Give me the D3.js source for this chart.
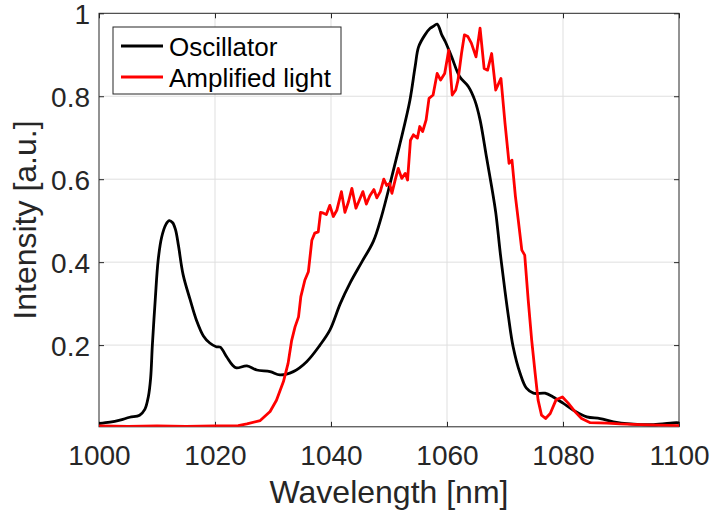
<!DOCTYPE html>
<html>
<head>
<meta charset="utf-8">
<script src="https://cdn.jsdelivr.net/npm/d3@7"></script>
<style>
  body { margin: 0; background: #fff; }
  text { font-family: "Liberation Sans", Arial, Helvetica, sans-serif; }
</style>
</head>
<body>
<div id="chart"></div>
<script>
// spectra: wavelength [nm] / intensity [a.u.]
var oscWl = [1000, 1001.9, 1003.6, 1005.3, 1007, 1007.9, 1008.5, 1008.9, 1009.2, 1009.7,
  1010.2, 1010.8, 1011.5, 1012.1, 1012.7, 1013.2, 1013.7, 1014.5, 1015.7, 1016.8,
  1018, 1019.1, 1020.2, 1020.9, 1022, 1023, 1023.7, 1025.5, 1027.2, 1029.5,
  1031.2, 1033.5, 1035.8, 1038.1, 1039.8, 1041.6, 1043.3, 1045.3, 1047.3, 1048.7,
  1050.2, 1051.9, 1053.6, 1054.5, 1055.1, 1056.2, 1057.1, 1057.6, 1058.3, 1059.1,
  1059.7, 1060.8, 1062.2, 1063.7, 1064.8, 1065.7, 1066.8, 1067.7, 1068.4, 1069.2,
  1070, 1070.6, 1071.4, 1072.6, 1073.7, 1074.9, 1076.9, 1078.3, 1080, 1081.8,
  1084.1, 1086.4, 1088.7, 1091.6, 1095.6, 1099.6, 1100];
var oscI = [0.011, 0.014, 0.019, 0.026, 0.031, 0.045, 0.075, 0.12, 0.2, 0.31,
  0.405, 0.46, 0.49, 0.5, 0.495, 0.478, 0.44, 0.37, 0.31, 0.26,
  0.222, 0.205, 0.196, 0.195, 0.172, 0.152, 0.145, 0.15, 0.14, 0.136,
  0.128, 0.136, 0.16, 0.2, 0.236, 0.3, 0.35, 0.4, 0.45, 0.51,
  0.59, 0.686, 0.79, 0.871, 0.919, 0.948, 0.964, 0.968, 0.974, 0.948,
  0.932, 0.895, 0.847, 0.823, 0.79, 0.743, 0.654, 0.582, 0.52, 0.42,
  0.33, 0.268, 0.196, 0.132, 0.096, 0.084, 0.084, 0.075, 0.06, 0.043,
  0.027, 0.023, 0.015, 0.01, 0.008, 0.013, 0.012];

var ampWl = [1000, 1005, 1010, 1015, 1020, 1024, 1025.5, 1027.8, 1029.5, 1030.6,
  1031.8, 1032.6, 1033.2, 1033.8, 1034.4, 1034.8, 1035.5, 1036.1, 1036.7, 1037.2,
  1037.8, 1038.2, 1038.7, 1039.2, 1039.8, 1040.4, 1041, 1041.8, 1042.4, 1043,
  1043.6, 1044.3, 1044.9, 1045.5, 1046.1, 1046.7, 1047.4, 1047.9, 1048.5, 1049.1,
  1049.6, 1050.1, 1050.5, 1051.1, 1051.6, 1052.2, 1052.8, 1053.2, 1053.7, 1054.2,
  1054.9, 1055.3, 1055.8, 1056.4, 1056.9, 1057.6, 1058.3, 1058.9, 1059.6, 1060.3,
  1060.9, 1061.5, 1061.9, 1062.5, 1063, 1063.6, 1064.2, 1065, 1065.7, 1066.4,
  1067, 1067.7, 1068.4, 1069.3, 1070, 1070.7, 1071.2, 1071.8, 1072.3, 1072.9,
  1073.4, 1074, 1074.6, 1075.2, 1075.7, 1076.3, 1077, 1077.8, 1078.8, 1079.9,
  1080.9, 1082.1, 1083.2, 1084.7, 1087.6, 1089.8, 1093.3, 1096.5, 1100];
var ampI = [0.005, 0.004, 0.005, 0.004, 0.005, 0.006, 0.01, 0.018, 0.04, 0.067,
  0.112, 0.156, 0.21, 0.244, 0.268, 0.317, 0.357, 0.377, 0.453, 0.47,
  0.473, 0.52, 0.518, 0.515, 0.537, 0.51, 0.525, 0.57, 0.52, 0.545,
  0.578, 0.53, 0.55, 0.57, 0.54, 0.56, 0.575, 0.555, 0.57, 0.6,
  0.585, 0.59, 0.566, 0.6, 0.626, 0.602, 0.614, 0.598, 0.694, 0.707,
  0.699, 0.727, 0.715, 0.743, 0.795, 0.803, 0.855, 0.839, 0.855, 0.911,
  0.803, 0.815, 0.839, 0.903, 0.948, 0.944, 0.928, 0.895, 0.964, 0.867,
  0.863, 0.903, 0.815, 0.843, 0.735, 0.638, 0.646, 0.558, 0.5, 0.429,
  0.417, 0.309, 0.212, 0.132, 0.068, 0.031, 0.023, 0.035, 0.068, 0.075,
  0.06, 0.039, 0.023, 0.013, 0.012, 0.01, 0.008, 0.007, 0.006];

var xTicks = [1000, 1020, 1040, 1060, 1080, 1100];
var yTicks = [0.2, 0.4, 0.6, 0.8, 1];
var seriesNames = ["Oscillator", "Amplified light"];
var seriesColors = ["#000000", "#ff0000"];

//////////////////////////////////////////////////////////////////////////////
// layout

var W = 715, H = 510;
var pLeft = 99, pTop = 13.3, pRight = 679, pBottom = 426.8;
var ink = "#262626";

var xScale = d3.scaleLinear().domain([1000, 1100]).range([pLeft, pRight]);
var yScale = d3.scaleLinear().domain([0.003, 1]).range([pBottom, pTop]);

var svg = d3.select("#chart").append("svg")
    .attr("width", W)
    .attr("height", H);

svg.append("rect").attr("width", W).attr("height", H).attr("fill", "#fff");

// grid
svg.append("g")
    .selectAll("line")
    .data(xTicks.slice(1, -1))
    .enter().append("line")
    .attr("x1", d => xScale(d)).attr("x2", d => xScale(d))
    .attr("y1", pTop).attr("y2", pBottom)
    .attr("stroke", "#dfdfdf").attr("stroke-width", 1);

svg.append("g")
    .selectAll("line")
    .data(yTicks.slice(0, -1))
    .enter().append("line")
    .attr("x1", pLeft).attr("x2", pRight)
    .attr("y1", d => yScale(d)).attr("y2", d => yScale(d))
    .attr("stroke", "#dfdfdf").attr("stroke-width", 1);

// axes, ticks inward on all sides
var tickLen = 5;
var xAxisB = d3.axisBottom(xScale).tickValues(xTicks).tickSizeInner(-tickLen).tickSizeOuter(0)
    .tickPadding(18).tickFormat(d3.format("d"));
var xAxisT = d3.axisTop(xScale).tickValues(xTicks).tickSizeInner(-tickLen).tickSizeOuter(0).tickFormat("");
var yAxisL = d3.axisLeft(yScale).tickValues(yTicks).tickSizeInner(-tickLen).tickSizeOuter(0)
    .tickPadding(9).tickFormat(d3.format("~g"));
var yAxisR = d3.axisRight(yScale).tickValues(yTicks).tickSizeInner(-tickLen).tickSizeOuter(0).tickFormat("");

function styleAxis(g) {
    g.select(".domain").remove();
    g.selectAll("line").attr("stroke", ink);
    g.selectAll("text").attr("fill", ink).style("font-size", "28px");
}

svg.append("g").attr("transform", "translate(0," + pBottom + ")").call(xAxisB).call(styleAxis);
svg.append("g").attr("transform", "translate(0," + pTop + ")").call(xAxisT).call(styleAxis);
svg.append("g").attr("transform", "translate(" + pLeft + ",0)").call(yAxisL).call(styleAxis)
    .selectAll("text").attr("dy", "0.36em");
svg.append("g").attr("transform", "translate(" + pRight + ",0)").call(yAxisR).call(styleAxis);

// box
svg.append("rect")
    .attr("x", pLeft).attr("y", pTop)
    .attr("width", pRight - pLeft).attr("height", pBottom - pTop)
    .attr("fill", "none").attr("stroke", ink).attr("stroke-width", 1);

// lines
svg.append("clipPath").attr("id", "clip").append("rect")
    .attr("x", pLeft).attr("y", pTop - 2).attr("width", pRight - pLeft).attr("height", pBottom - pTop + 2);

var oscLine = d3.line()
    .x((d, i) => xScale(oscWl[i]))
    .y(d => yScale(d))
    .curve(d3.curveCatmullRom.alpha(0.5));

var ampLine = d3.line()
    .x((d, i) => xScale(ampWl[i]))
    .y(d => yScale(d));

var plot = svg.append("g").attr("clip-path", "url(#clip)");

plot.append("path").datum(oscI)
    .attr("d", oscLine)
    .attr("fill", "none").attr("stroke", seriesColors[0])
    .attr("stroke-width", 2.8).attr("stroke-linejoin", "round");

plot.append("path").datum(ampI)
    .attr("d", ampLine)
    .attr("fill", "none").attr("stroke", seriesColors[1])
    .attr("stroke-width", 2.8).attr("stroke-linejoin", "round");

// axis labels
svg.append("text")
    .attr("x", (pLeft + pRight) / 2).attr("y", 503)
    .attr("text-anchor", "middle")
    .attr("fill", ink)
    .style("font-size", "32px")
    .text("Wavelength [nm]");

svg.append("text")
    .attr("transform", "translate(36," + (pTop + pBottom) / 2 + ") rotate(-90)")
    .attr("text-anchor", "middle")
    .attr("fill", ink)
    .style("font-size", "32px")
    .text("Intensity [a.u.]");

// legend
var legend = svg.append("g");
legend.append("rect")
    .attr("x", 113).attr("y", 27).attr("width", 228).attr("height", 67)
    .attr("fill", "#fff").attr("stroke", ink).attr("stroke-width", 1);

var rows = legend.selectAll("g.row")
    .data(seriesNames)
    .enter().append("g")
    .attr("class", "row")
    .attr("transform", (d, i) => "translate(0," + (46 + i * 31) + ")");

rows.append("line")
    .attr("x1", 121).attr("x2", 163)
    .attr("stroke", (d, i) => seriesColors[i])
    .attr("stroke-width", 2.8);

rows.append("text")
    .attr("x", 169).attr("y", 10)
    .attr("fill", "#000")
    .style("font-size", "26px")
    .text(d => d);
</script>
</body>
</html>
